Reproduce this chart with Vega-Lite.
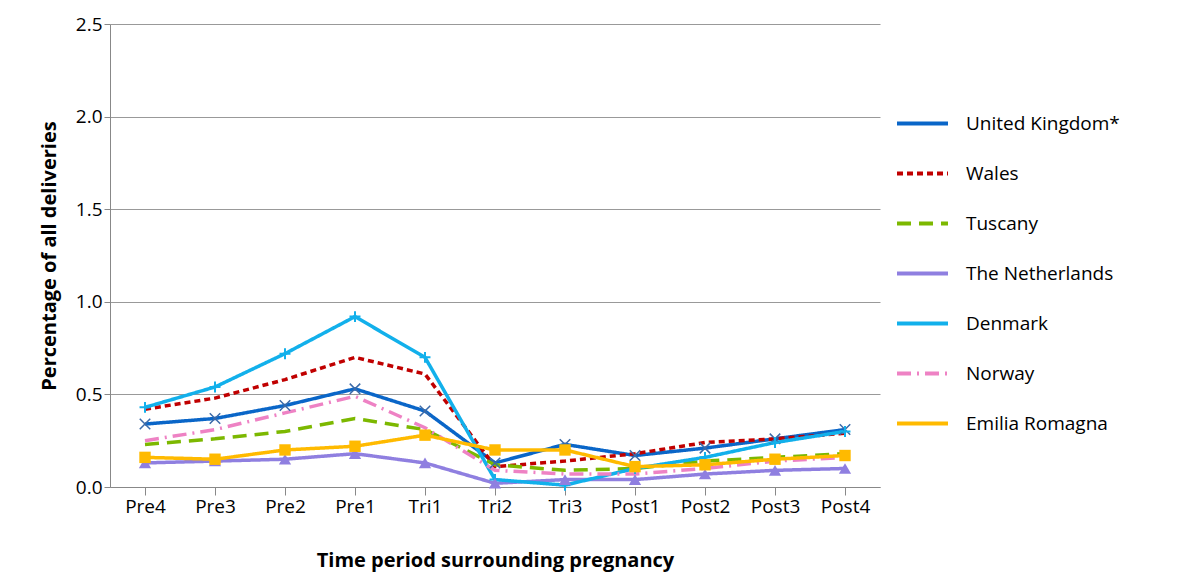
{
"$schema":"https://vega.github.io/schema/vega-lite/v6.json",
"width":770,"height":463,
"autosize":{"type":"none"},
"padding":{"left":110,"top":24,"right":306,"bottom":98},
"config":{"font":"Open Sans","view":{"stroke":null}},
"data":{"values":[
{"c":"United Kingdom*","p":"Pre4","v":0.34},{"c":"United Kingdom*","p":"Pre3","v":0.37},{"c":"United Kingdom*","p":"Pre2","v":0.44},{"c":"United Kingdom*","p":"Pre1","v":0.53},{"c":"United Kingdom*","p":"Tri1","v":0.41},{"c":"United Kingdom*","p":"Tri2","v":0.13},{"c":"United Kingdom*","p":"Tri3","v":0.23},{"c":"United Kingdom*","p":"Post1","v":0.17},{"c":"United Kingdom*","p":"Post2","v":0.21},{"c":"United Kingdom*","p":"Post3","v":0.26},{"c":"United Kingdom*","p":"Post4","v":0.31},
{"c":"Wales","p":"Pre4","v":0.42},{"c":"Wales","p":"Pre3","v":0.48},{"c":"Wales","p":"Pre2","v":0.58},{"c":"Wales","p":"Pre1","v":0.70},{"c":"Wales","p":"Tri1","v":0.61},{"c":"Wales","p":"Tri2","v":0.11},{"c":"Wales","p":"Tri3","v":0.14},{"c":"Wales","p":"Post1","v":0.18},{"c":"Wales","p":"Post2","v":0.24},{"c":"Wales","p":"Post3","v":0.26},{"c":"Wales","p":"Post4","v":0.29},
{"c":"Tuscany","p":"Pre4","v":0.23},{"c":"Tuscany","p":"Pre3","v":0.26},{"c":"Tuscany","p":"Pre2","v":0.30},{"c":"Tuscany","p":"Pre1","v":0.37},{"c":"Tuscany","p":"Tri1","v":0.31},{"c":"Tuscany","p":"Tri2","v":0.12},{"c":"Tuscany","p":"Tri3","v":0.09},{"c":"Tuscany","p":"Post1","v":0.10},{"c":"Tuscany","p":"Post2","v":0.14},{"c":"Tuscany","p":"Post3","v":0.16},{"c":"Tuscany","p":"Post4","v":0.18},
{"c":"The Netherlands","p":"Pre4","v":0.13},{"c":"The Netherlands","p":"Pre3","v":0.14},{"c":"The Netherlands","p":"Pre2","v":0.15},{"c":"The Netherlands","p":"Pre1","v":0.18},{"c":"The Netherlands","p":"Tri1","v":0.13},{"c":"The Netherlands","p":"Tri2","v":0.02},{"c":"The Netherlands","p":"Tri3","v":0.04},{"c":"The Netherlands","p":"Post1","v":0.04},{"c":"The Netherlands","p":"Post2","v":0.07},{"c":"The Netherlands","p":"Post3","v":0.09},{"c":"The Netherlands","p":"Post4","v":0.10},
{"c":"Denmark","p":"Pre4","v":0.43},{"c":"Denmark","p":"Pre3","v":0.54},{"c":"Denmark","p":"Pre2","v":0.72},{"c":"Denmark","p":"Pre1","v":0.92},{"c":"Denmark","p":"Tri1","v":0.70},{"c":"Denmark","p":"Tri2","v":0.04},{"c":"Denmark","p":"Tri3","v":0.01},{"c":"Denmark","p":"Post1","v":0.10},{"c":"Denmark","p":"Post2","v":0.16},{"c":"Denmark","p":"Post3","v":0.24},{"c":"Denmark","p":"Post4","v":0.30},
{"c":"Norway","p":"Pre4","v":0.25},{"c":"Norway","p":"Pre3","v":0.31},{"c":"Norway","p":"Pre2","v":0.40},{"c":"Norway","p":"Pre1","v":0.49},{"c":"Norway","p":"Tri1","v":0.32},{"c":"Norway","p":"Tri2","v":0.09},{"c":"Norway","p":"Tri3","v":0.07},{"c":"Norway","p":"Post1","v":0.07},{"c":"Norway","p":"Post2","v":0.10},{"c":"Norway","p":"Post3","v":0.14},{"c":"Norway","p":"Post4","v":0.16},
{"c":"Emilia Romagna","p":"Pre4","v":0.16},{"c":"Emilia Romagna","p":"Pre3","v":0.15},{"c":"Emilia Romagna","p":"Pre2","v":0.20},{"c":"Emilia Romagna","p":"Pre1","v":0.22},{"c":"Emilia Romagna","p":"Tri1","v":0.28},{"c":"Emilia Romagna","p":"Tri2","v":0.20},{"c":"Emilia Romagna","p":"Tri3","v":0.20},{"c":"Emilia Romagna","p":"Post1","v":0.11},{"c":"Emilia Romagna","p":"Post2","v":0.12},{"c":"Emilia Romagna","p":"Post3","v":0.15},{"c":"Emilia Romagna","p":"Post4","v":0.17}
]},
"encoding":{
"x":{"field":"p","type":"ordinal","sort":null,"scale":{"type":"point","padding":0.5},
"axis":{"title":"Time period surrounding pregnancy","titleFontSize":20,"titleFontWeight":"bold","titlePadding":34,"labelFontSize":19,"labelAngle":0,"labelColor":"#000","domainColor":"#888","tickColor":"#888","tickSize":8,"titleColor":"#000"}},
"y":{"field":"v","type":"quantitative","scale":{"domain":[0,2.5]},
"axis":{"title":"Percentage of all deliveries","titleFontSize":20,"titleFontWeight":"bold","titlePadding":16,"labelFontSize":19,"values":[0,0.5,1,1.5,2,2.5],"format":".1f","labelColor":"#000","titleColor":"#000","gridColor":"#999","domainColor":"#888","tickColor":"#888","tickSize":6}},
"color":{"field":"c","type":"nominal","sort":null,"scale":{"domain":["United Kingdom*","Wales","Tuscany","The Netherlands","Denmark","Norway","Emilia Romagna"],"range":["#0a66c8","#c00000","#7cb800","#8f7fe0","#12b0eb","#ee82c4","#ffba00"]},
"legend":{"title":null,"orient":"none","legendX":785,"legendY":72,"labelFontSize":19,"labelColor":"#000","symbolType":"stroke","symbolSize":2600,"symbolStrokeWidth":4,"rowPadding":12,"labelOffset":16}}
},
"layer":[
{"mark":{"type":"line","strokeWidth":3.5},
"encoding":{"strokeDash":{"field":"c","type":"nominal","sort":null,"scale":{"domain":["United Kingdom*","Wales","Tuscany","The Netherlands","Denmark","Norway","Emilia Romagna"],"range":[[1,0],[6,4],[14,8],[1,0],[1,0],[14,6,2,6],[1,0]]},"legend":{"title":null,"orient":"none","legendX":785,"legendY":72,"labelFontSize":19,"labelColor":"#000","symbolType":"stroke","symbolSize":2600,"symbolStrokeWidth":4,"rowPadding":12,"labelOffset":16}}}},
{"transform":[{"filter":"datum.c=='United Kingdom*'"}],"mark":{"type":"point","shape":"M-1,-1L1,1M1,-1L-1,1","size":110,"filled":false,"strokeWidth":1.5,"opacity":1,"color":"#3c6aa8"},"encoding":{"color":{"value":"#3c6aa8"}}},
{"transform":[{"filter":"datum.c=='Denmark'"}],"mark":{"type":"point","shape":"M-1,0L1,0M0,-1L0,1","size":120,"filled":false,"strokeWidth":2,"opacity":1}},
{"transform":[{"filter":"datum.c=='The Netherlands'"}],"mark":{"type":"point","shape":"triangle-up","size":150,"filled":true,"opacity":1}},
{"transform":[{"filter":"datum.c=='Emilia Romagna'"}],"mark":{"type":"square","size":130,"opacity":1}}
]
}
